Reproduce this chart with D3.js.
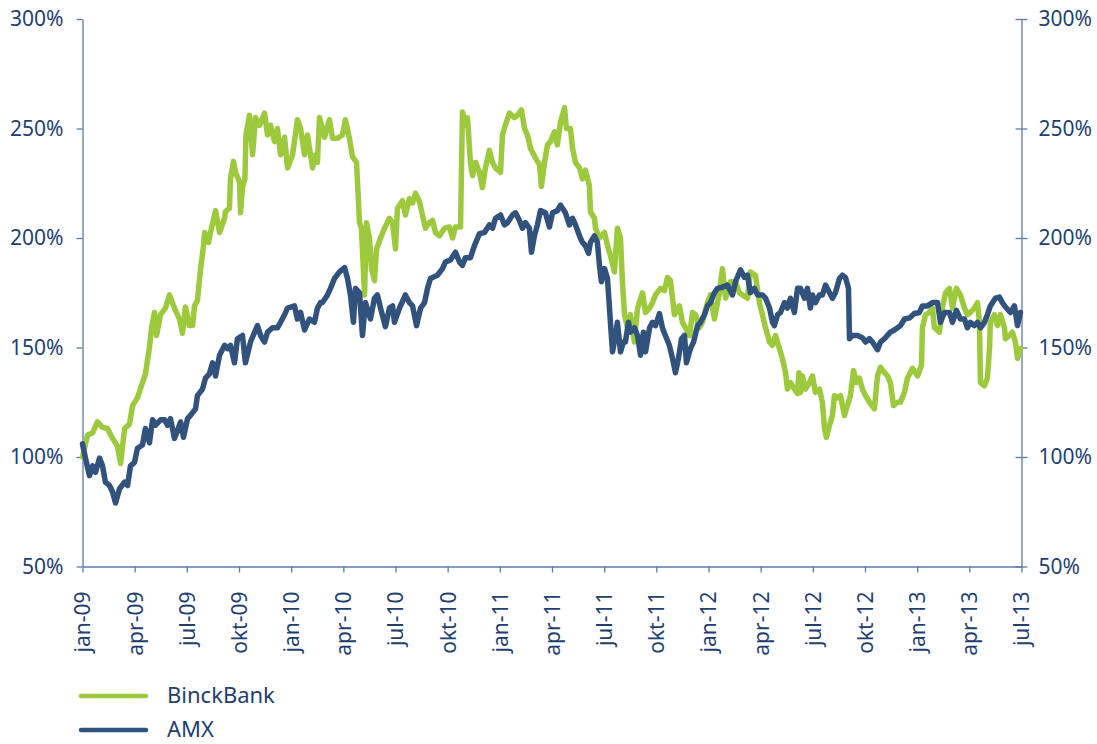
<!DOCTYPE html>
<html>
<head>
<meta charset="utf-8">
<title>BinckBank vs AMX</title>
<script src="https://d3js.org/d3.v7.min.js"></script>
<style>
  body { margin: 0; background: #fff; }
  svg text { font-family: "Noto Sans", sans-serif; fill: #1f3f70; }
  .axis text { font-size: 21px; }
  .axis path, .axis line { stroke: #5a7bab; stroke-width: 1.3; }
  .legend text { font-size: 22px; }
</style>
</head>
<body>
<div id="chart"></div>
<script>
// x = months since jan-09, y = index (%)
const quarterLabels = ["jan-09","apr-09","jul-09","okt-09","jan-10","apr-10","jul-10","okt-10",
  "jan-11","apr-11","jul-11","okt-11","jan-12","apr-12","jul-12","okt-12","jan-13","apr-13","jul-13"];
const percentTicks = [50, 100, 150, 200, 250, 300];

const binckBank = [
  [0,100],[0.29,110],[0.58,111],[0.86,116],[1.15,113.5],[1.44,113],[1.73,108.5],[2.01,105],[2.19,97],[2.42,113],
  [2.70,115],[2.88,123.5],[3.16,127],[3.45,134],[3.62,138],[3.85,150],[3.97,159],[4.14,166],[4.26,155.5],[4.49,165],
  [4.77,168],[5.00,174],[5.29,168],[5.58,163],[5.75,156.5],[5.92,168.5],[6.15,160],[6.33,160],[6.44,169],[6.61,171.5],
  [6.79,186],[6.96,196.5],[7.02,202.5],[7.25,198],[7.36,202.5],[7.65,212.5],[7.88,202.5],[8.17,209],[8.22,212],[8.45,213.5],
  [8.51,227],[8.68,235],[8.80,230],[9.03,225.5],[9.09,211.5],[9.20,223],[9.34,227],[9.40,247],[9.60,256],[9.78,238],
  [9.95,255],[10.18,251.5],[10.47,257],[10.64,247],[10.81,251.5],[11.04,244],[11.21,250],[11.39,238],[11.62,246],[11.79,232],
  [12.08,238],[12.36,254],[12.54,250],[12.77,238],[12.94,247],[13.23,232],[13.40,238],[13.51,234.5],[13.63,255],[13.92,246],
  [14.20,254],[14.38,245.5],[14.66,245.5],[14.95,247],[15.12,254],[15.35,245.5],[15.53,237],[15.76,234.5],[15.93,207],[16.04,204.5],
  [16.22,174],[16.33,207],[16.50,200],[16.62,186],[16.79,180.5],[16.91,195],[17.14,200],[17.37,204.5],[17.65,209],[17.83,207],
  [18.00,195],[18.11,213.5],[18.40,217],[18.57,210.5],[18.80,218],[18.98,216],[19.15,220.5],[19.38,216.5],[19.55,210.5],[19.72,204.5],
  [19.95,207],[20.13,208],[20.30,202.5],[20.53,201],[20.82,204.5],[21.10,205],[21.28,200],[21.45,205],[21.74,205],[21.85,257.5],
  [22.02,251.5],[22.14,255],[22.31,234.5],[22.43,228.5],[22.60,234.5],[22.83,230],[23.00,223],[23.17,232],[23.40,240],[23.58,234.5],
  [23.75,232],[24.04,230],[24.15,247],[24.32,251.5],[24.55,257],[24.84,255],[25.01,256],[25.24,258.5],[25.42,250],[25.59,247],
  [25.76,241],[26.05,236.5],[26.28,233.5],[26.39,223.5],[26.57,234.5],[26.74,242.5],[26.91,244],[27.14,248.5],[27.31,242.5],[27.49,253],
  [27.72,259.5],[27.83,250],[28.06,250],[28.18,241],[28.35,234.5],[28.58,232],[28.75,227],[28.92,231],[29.15,224],[29.21,212],
  [29.44,209],[29.50,204.5],[29.73,200],[30.02,202.5],[30.19,196.5],[30.36,192],[30.59,184.5],[30.76,204.5],[30.94,200],[31.05,180],
  [31.17,165],[31.34,159],[31.51,165],[31.74,152.5],[31.92,168],[32.20,175],[32.38,166],[32.61,168],[32.78,170.5],[32.95,174],
  [33.24,177],[33.47,176],[33.64,182],[33.81,180.5],[34.04,165],[34.33,169],[34.50,161.5],[34.68,159],[34.91,155.5],[35.08,166],
  [35.25,165],[35.48,159],[35.65,161.5],[35.94,170.5],[36.11,174],[36.34,163],[36.63,175],[36.80,186],[36.98,172.5],[37.26,180],
  [37.55,180],[37.78,175],[37.95,174],[38.24,172.5],[38.41,184.5],[38.70,183],[38.93,170.5],[39.10,165],[39.28,159],[39.51,152.5],
  [39.68,151],[39.85,155.5],[40.08,149.5],[40.25,145],[40.43,138.5],[40.54,131],[40.71,134],[40.94,131],[41.12,129],[41.20,138.5],
  [41.29,129.5],[41.40,137],[41.58,131],[41.81,134],[41.98,137],[42.15,129.5],[42.38,131],[42.55,125],[42.67,113],[42.78,109],
  [42.96,114.5],[43.13,119],[43.24,128],[43.42,127],[43.59,128],[43.82,119],[43.99,123.5],[44.16,128],[44.34,139.5],[44.51,134],
  [44.68,136],[44.85,131],[45.03,128],[45.26,125],[45.54,122],[45.72,137],[45.89,141],[46.12,138.5],[46.29,137],[46.46,134],
  [46.64,123.5],[46.87,125],[47.04,125],[47.27,129.5],[47.44,136],[47.73,140.5],[48.02,137],[48.25,142],[48.30,159],[48.48,165],
  [48.71,166],[48.88,168],[48.99,159],[49.28,157],[49.45,168],[49.63,175],[49.86,177],[50.03,168],[50.26,177],[50.49,174],
  [50.72,168],[50.89,165],[51.06,166],[51.29,168],[51.47,170.5],[51.58,161.5],[51.64,134],[51.87,132.5],[52.04,136],[52.16,149.5],
  [52.21,161.5],[52.44,165],[52.62,160],[52.79,165],[53.02,159],[53.08,154],[53.31,155.5],[53.48,157],[53.65,152.5],[53.77,145],
  [53.94,149.5]
];

const amx = [
  [0,106],[0.17,99.5],[0.40,91.5],[0.58,96],[0.75,93],[0.98,99.5],[1.15,96],[1.32,88.5],[1.55,87],[1.73,84],
  [1.90,79],[2.13,85.5],[2.42,88.5],[2.59,87],[2.76,96],[2.99,97.5],[3.16,104],[3.45,105.5],[3.62,113],[3.85,106.5],
  [4.03,117],[4.20,114.5],[4.49,117],[4.72,117],[4.89,114.5],[5.06,117.5],[5.29,108.5],[5.46,112],[5.64,116],[5.81,109],
  [6.04,117.5],[6.21,119],[6.50,122],[6.61,128],[6.90,131],[7.07,136],[7.30,138],[7.48,143],[7.65,137],[7.88,146.5],
  [8.17,151],[8.34,149.5],[8.51,151],[8.74,143],[8.91,154],[9.20,155.5],[9.37,143],[9.66,152.5],[10.06,160],[10.24,155.5],
  [10.47,152.5],[10.64,157],[10.93,159],[11.21,159],[11.39,161.5],[11.62,165],[11.79,168],[12.19,169],[12.36,163],[12.54,166],
  [12.77,158],[13.05,163],[13.34,161.5],[13.51,168],[13.69,170.5],[13.80,170.5],[14.09,174],[14.26,177],[14.49,181.5],[14.78,184.5],
  [15.07,186.5],[15.24,181.5],[15.41,174],[15.58,161.5],[15.70,177],[15.93,175],[16.10,155.5],[16.27,170.5],[16.56,163],[16.79,172.5],
  [16.96,174],[17.14,168],[17.42,159.5],[17.65,168],[17.83,169],[17.94,161.5],[18.23,168],[18.57,174],[18.80,170.5],[18.98,169],
  [19.21,160],[19.44,168],[19.67,170.5],[19.84,177],[20.01,181.5],[20.41,183],[20.70,186],[20.87,189],[21.16,190],[21.45,193.5],
  [21.68,189],[21.85,187.5],[22.02,191],[22.31,191],[22.54,196.5],[22.83,202],[23.12,202.5],[23.40,206],[23.58,204.5],[23.75,209],
  [24.04,210.5],[24.27,206],[24.44,207],[24.73,210.5],[24.90,211.5],[25.13,208],[25.30,204.5],[25.47,207],[25.70,204.5],[25.82,193.5],
  [25.99,201],[26.16,206],[26.34,212.5],[26.62,211.5],[26.85,205],[27.03,211.5],[27.31,212.5],[27.49,215],[27.77,211.5],[28.00,206],
  [28.18,209],[28.35,206],[28.58,201],[28.75,198],[28.92,196.5],[29.10,193],[29.21,198],[29.44,201],[29.61,198],[29.73,187.5],
  [29.84,180],[30.02,186],[30.19,181.5],[30.36,161.5],[30.48,148],[30.65,155.5],[30.76,161.5],[30.94,148],[31.11,152.5],[31.22,152.5],
  [31.40,161.5],[31.51,157],[31.74,159],[31.92,155.5],[32.09,146.5],[32.26,157],[32.38,148],[32.61,159],[32.78,161.5],[32.95,160],
  [33.18,165.5],[33.35,159],[33.52,155.5],[33.75,151],[33.93,145],[34.10,138.5],[34.27,145],[34.45,154],[34.62,155.5],[34.73,143],
  [34.96,149.5],[35.14,152.5],[35.37,160],[35.54,161.5],[35.77,165],[35.94,169],[36.11,170.5],[36.34,175],[36.52,177],[36.80,177.5],
  [37.09,178.5],[37.38,174],[37.55,180],[37.84,185.5],[38.07,182],[38.24,183],[38.41,175],[38.64,177],[38.82,174],[39.10,174],
  [39.28,172.5],[39.51,168],[39.68,161.5],[39.79,160],[39.97,165],[40.14,166],[40.37,170.5],[40.54,168],[40.71,172.5],[40.94,166],
  [41.12,177],[41.29,177],[41.52,172.5],[41.69,177],[41.86,168],[41.98,174],[42.15,170.5],[42.38,174],[42.55,174],[42.73,178.5],
  [42.96,175],[43.13,172.5],[43.30,175],[43.53,181.5],[43.70,183],[43.88,182],[44.05,177],[44.11,154],[44.28,155.5],[44.57,155.5],
  [44.85,154.5],[45.03,152.5],[45.26,154],[45.43,152.5],[45.72,149],[45.89,152.5],[46.12,154],[46.29,155.5],[46.46,157],[46.69,158],
  [46.87,159],[47.04,160],[47.27,163],[47.56,163.5],[47.84,165.5],[48.13,166],[48.30,169],[48.59,169],[48.88,170.5],[49.17,170.5],
  [49.34,161.5],[49.57,166],[49.86,166],[50.03,161.5],[50.26,167],[50.49,163],[50.72,163],[50.89,159],[51.06,161.5],[51.29,160],
  [51.47,161.5],[51.64,159],[51.87,161.5],[52.04,165],[52.21,169],[52.50,172.5],[52.73,173],[52.90,170.5],[53.08,168.5],[53.36,166],
  [53.59,169],[53.77,160],[53.94,166]
];

const series = [
  { name: "BinckBank", color: "#9dca3c", data: binckBank },
  { name: "AMX", color: "#31527d", data: amx }
];

const width = 1097, height = 744;
const plot = { left: 82.5, right: 1021.5, top: 19, bottom: 566.5 };

const svg = d3.select("#chart").append("svg")
  .attr("width", width)
  .attr("height", height);

const x = d3.scaleLinear()
  .domain([0, (quarterLabels.length - 1) * 3])
  .range([plot.left, plot.right]);

const y = d3.scaleLinear()
  .domain([50, 300])
  .range([plot.bottom, plot.top]);

// left axis
svg.append("g")
  .attr("class", "axis")
  .attr("transform", `translate(${plot.left},0)`)
  .call(d3.axisLeft(y).tickValues(percentTicks).tickSize(6).tickSizeOuter(0).tickPadding(13)
    .tickFormat(d => d + "%"));

// right axis, ticks cross the line
const right = svg.append("g")
  .attr("class", "axis")
  .attr("transform", `translate(${plot.right},0)`)
  .call(d3.axisRight(y).tickValues(percentTicks).tickSize(6).tickSizeOuter(0).tickPadding(11)
    .tickFormat(d => d + "%"));
right.selectAll(".tick line").attr("x1", -6);

// bottom axis with rotated quarter labels
const bottom = svg.append("g")
  .attr("class", "axis")
  .attr("transform", `translate(0,${plot.bottom})`)
  .call(d3.axisBottom(x).tickValues(d3.range(0, quarterLabels.length * 3, 3)).tickSize(6).tickSizeOuter(0)
    .tickFormat((d, i) => quarterLabels[i]));
bottom.selectAll(".tick text")
  .attr("transform", "rotate(-90)")
  .attr("x", -25)
  .attr("y", 0)
  .attr("dy", "0.35em")
  .attr("text-anchor", "end");

const line = d3.line()
  .x(d => x(d[0]))
  .y(d => y(d[1]));

svg.selectAll(".series")
  .data(series)
  .enter()
  .append("path")
  .attr("class", "series")
  .attr("d", d => line(d.data))
  .attr("fill", "none")
  .attr("stroke", d => d.color)
  .attr("stroke-width", 5.5)
  .attr("stroke-linejoin", "round")
  .attr("stroke-linecap", "round");

// legend
const legend = svg.append("g")
  .attr("class", "legend")
  .attr("transform", "translate(81,696)");

const items = legend.selectAll("g")
  .data(series)
  .enter()
  .append("g")
  .attr("transform", (d, i) => `translate(0,${i * 34})`);

items.append("line")
  .attr("x1", 0).attr("x2", 65)
  .attr("stroke", d => d.color)
  .attr("stroke-width", 4.5)
  .attr("stroke-linecap", "round");

items.append("text")
  .attr("x", 86)
  .attr("y", 7)
  .text(d => d.name);
</script>
</body>
</html>
